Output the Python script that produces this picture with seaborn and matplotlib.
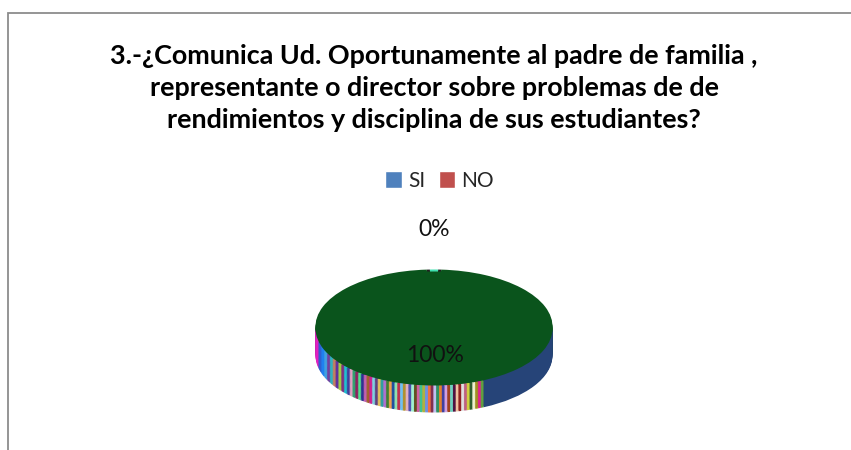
import matplotlib
matplotlib.use("Agg")
import matplotlib.pyplot as plt
import numpy as np
import seaborn as sns
from matplotlib.patches import Patch, Rectangle

W, H = 851, 450

title = ("3.-¿Comunica Ud. Oportunamente al padre de familia ,\n"
         "representante o director sobre problemas de de\n"
         "rendimientos y disciplina de sus estudiantes?")
categorias = ["SI", "NO"]
porcentajes = [0, 100]
colores_leyenda = ["#4F81BD", "#C0504D"]

# el borde del pastel sale con rayas de muchos colores en el original
rayas = ["#E020C0", "#3060D0", "#2080F0", "#40A0E0", "#7040A0", "#30B0C0", "#C08060", "#6030A0",
         "#A0D040", "#803080", "#20C0D0", "#40409A", "#E0A0C0", "#30A070", "#902060", "#50E090",
         "#303090", "#C060B0", "#A06030", "#D02090", "#80D0E0", "#604080", "#E0C060", "#30A0A0",
         "#B070D0", "#408030", "#F0A050", "#2050A0", "#90E0B0", "#C03050", "#70C0F0", "#B09030",
         "#E0B0C0", "#5050B0", "#A0F0D0", "#605020", "#D060A0", "#40C090", "#B0B040", "#7090E0",
         "#F07040", "#803050", "#C0C0F0", "#309060", "#E08030", "#4040A0", "#D0A0E0", "#A04020",
         "#70D0C0", "#501040", "#F0C0A0", "#902020", "#E0E0E0", "#C06080", "#D0D040", "#306030",
         "#F0F0D0", "#A09020", "#E02090", "#60A040"]
color_lado = "#264478"
color_tapa = "#0A541C"
marcas_tapa = ["#202020", "#40E0B0", "#202020"]

# grados que ocupa cada tramo del borde
grados_rayas = 115
grados_lado = 65
grados_marcas = [1.5, 4, 1.5]

sns.set_theme(style="white")
plt.rcParams["font.family"] = ["Lato", "DejaVu Sans"]

fig = plt.figure(figsize=(W / 100, H / 100), dpi=100)
fig.patch.set_facecolor("white")

# marco gris, se corta abajo y a la derecha
fig.add_artist(Rectangle((8 / W, -1), 2, 2 - 13 / H, transform=fig.transFigure, fill=False,
                         edgecolor="#8C8C8C", linewidth=1.3))

fig.text(434 / W, 1 - 88 / H, title, ha="center", va="center", fontsize=19.4,
         fontweight="bold", color="black", linespacing=1.42)

handles = [Patch(facecolor=c, label=n) for c, n in zip(sns.color_palette(colores_leyenda), categorias)]
fig.legend(handles=handles, loc="center", bbox_to_anchor=(439.5 / W, 1 - 181 / H), ncol=2, frameon=False,
           fontsize=15, handlelength=0.78, handleheight=0.85, handletextpad=0.3, columnspacing=0.65,
           borderpad=0, borderaxespad=0)

# pastel achatado: ejes mas anchos que altos
cx, cy, rx, ry = 434, 328.5, 118.5, 57
ax = fig.add_axes([(cx - 1.25 * rx) / W, 1 - (cy + 1.25 * ry) / H, 2.5 * rx / W, 2.5 * ry / H])

# rayas de igual ancho en pantalla, no en angulo
bordes = np.degrees(np.arccos(np.linspace(-1, np.cos(np.radians(grados_lado)), len(rayas) + 1)))
val_rayas = list(-np.diff(bordes))
val_borde = val_rayas + [grados_lado, 180]
col_borde = rayas + [color_lado, color_tapa]
profundidad = 27 / ry
for dy in np.linspace(profundidad, 0.02, 30):
    ax.pie(val_borde, colors=col_borde, startangle=180, center=(0, -dy), normalize=True,
           wedgeprops={"linewidth": 0})

# marquitas arriba, donde queda el 0%
ax.pie(grados_marcas + [360 - sum(grados_marcas)], colors=marcas_tapa + [color_tapa], startangle=86.5,
       center=(0, 0.035), wedgeprops={"linewidth": 0})
ax.pie([sum(porcentajes)], colors=[color_tapa], center=(0, 0), wedgeprops={"linewidth": 0})
ax.set_xlim(-1.25, 1.25)
ax.set_ylim(-1.25, 1.25)
ax.set_aspect("auto")
ax.patch.set_visible(False)
for s in ax.spines.values():
    s.set_visible(False)

fig.text(434 / W, 1 - 230 / H, f"{porcentajes[0]}%", ha="center", va="center", fontsize=16.5, color="#111111")
fig.text(435 / W, 1 - 356 / H, f"{porcentajes[1]}%", ha="center", va="center", fontsize=16.5, color="#111111")

fig.savefig("out.png", dpi=100)
